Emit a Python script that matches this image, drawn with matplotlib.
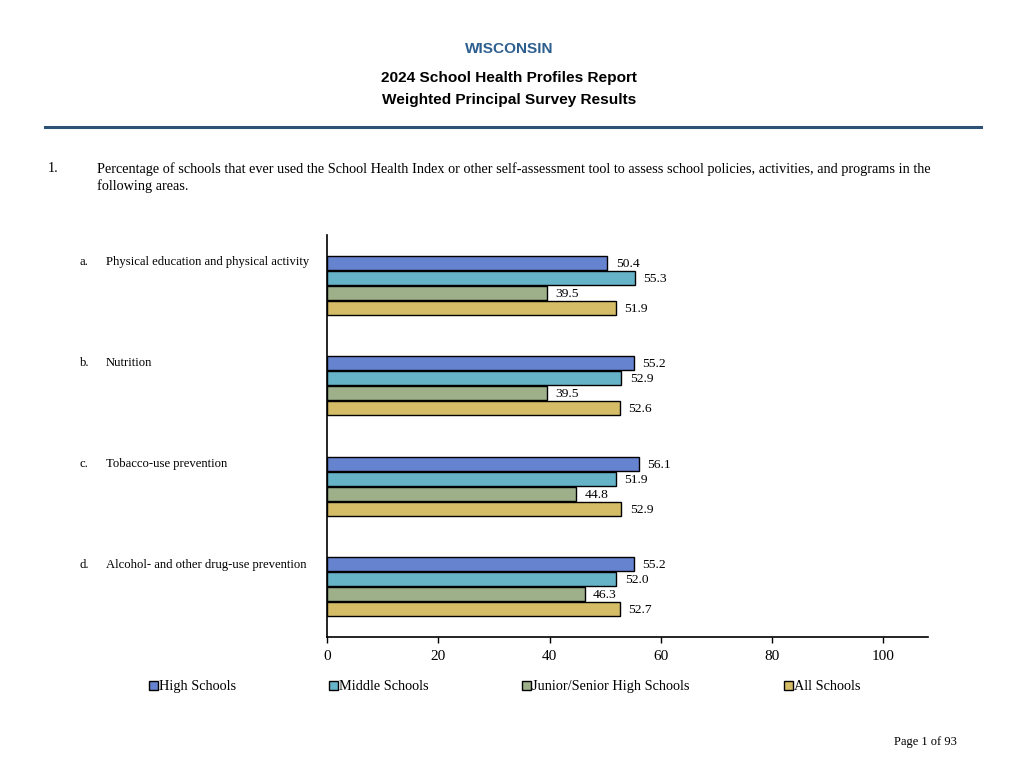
import matplotlib
matplotlib.use("Agg")
import matplotlib.pyplot as plt
from matplotlib.patches import Rectangle
import numpy as np

letters = ["a.", "b.", "c.", "d."]
categories = [
    "Physical education and physical activity",
    "Nutrition",
    "Tobacco-use prevention",
    "Alcohol- and other drug-use prevention",
]
series_names = ["High Schools", "Middle Schools", "Junior/Senior High Schools", "All Schools"]
high_schools = [50.4, 55.2, 56.1, 55.2]
middle_schools = [55.3, 52.9, 51.9, 52.0]
junior_senior = [39.5, 39.5, 44.8, 46.3]
all_schools = [51.9, 52.6, 52.9, 52.7]
xticks = [0, 20, 40, 60, 80, 100]

colors = ["#6683CF", "#66B3C8", "#9DB08A", "#D5BD68"]
series = [high_schools, middle_schools, junior_senior, all_schools]

serif = ["Liberation Serif", "DejaVu Serif"]
sans = ["Liberation Sans", "DejaVu Sans"]

fig = plt.figure(figsize=(10.24, 7.68), dpi=100)

# Header
fig.text(0.497, 1 - 49 / 768, "WISCONSIN", ha="center", va="center",
         fontsize=11.1, fontweight="bold", color="#2D5F8F", family=sans)
fig.text(0.497, 1 - 78 / 768, "2024 School Health Profiles Report", ha="center", va="center",
         fontsize=11.1, fontweight="bold", color="black", family=sans)
fig.text(0.497, 1 - 100 / 768, "Weighted Principal Survey Results", ha="center", va="center",
         fontsize=11.1, fontweight="bold", color="black", family=sans)
fig.add_artist(plt.Line2D([45 / 1024, 981 / 1024], [1 - 127 / 768, 1 - 127 / 768],
                          color="#2D5275", lw=2.2))

# Question
fig.text(48 / 1024, 1 - 169 / 768, "1.", ha="left", va="center", fontsize=10.3, family=serif)
fig.text(97 / 1024, 1 - 169 / 768,
         "Percentage of schools that ever used the School Health Index or other self-assessment tool to assess school policies, activities, and programs in the",
         ha="left", va="center", fontsize=10.3, family=serif)
fig.text(97 / 1024, 1 - 186 / 768, "following areas.", ha="left", va="center", fontsize=10.3, family=serif)

# Axes
ax = fig.add_axes([327 / 1024, 1 - 637 / 768, (928 - 327) / 1024, (637 - 235) / 768])
n = len(categories)
pitch = 0.149
bar_h = 0.138
offsets = (np.arange(4) - 1.5) * pitch
y = np.arange(n)
for s, (vals, col) in enumerate(zip(series, colors)):
    ax.barh(y + offsets[s], vals, height=bar_h, color=col, edgecolor="black", linewidth=1.0,
            label=series_names[s])
    for yi, v in zip(y + offsets[s], vals):
        ax.text(v + 1.5, yi + 0.01, f"{v:.1f}", va="center", ha="left", fontsize=9.7, family=serif)

ax.set_xlim(0, 108)
ax.set_ylim(n - 0.5, -0.5)
ax.set_yticks([])
ax.set_xticks(xticks)
ax.set_xticklabels([str(t) for t in xticks], family=serif, fontsize=11)
ax.tick_params(axis="x", direction="out", length=4, width=1, pad=5)
for sp in ["top", "right"]:
    ax.spines[sp].set_visible(False)
ax.spines["left"].set_linewidth(1.2)
ax.spines["bottom"].set_linewidth(1.2)

# Category labels
for i, (lt, cat) in enumerate(zip(letters, categories)):
    ypix = 261.5 + i * 101.3
    fig.text(80 / 1024, 1 - ypix / 768, lt, ha="left", va="center", fontsize=9.1, family=serif)
    fig.text(106 / 1024, 1 - ypix / 768, cat, ha="left", va="center", fontsize=9.1, family=serif)

# Legend (manual, aligned on one baseline)
legend_x = [149, 329, 522, 784]
ly = 1 - 685 / 768
sq = 9
for xpix, col, name in zip(legend_x, colors, series_names):
    fig.add_artist(Rectangle((xpix / 1024, ly - (sq / 2) / 768), sq / 1024, sq / 768,
                             facecolor=col, edgecolor="black", linewidth=1.0,
                             transform=fig.transFigure))
    fig.text((xpix + sq + 1) / 1024, ly, name, ha="left", va="center_baseline",
             fontsize=10.3, family=serif)

fig.text(957 / 1024, 1 - 742 / 768, "Page 1 of 93", ha="right", va="center", fontsize=9, family=serif)

fig.savefig("out.png", dpi=100)
